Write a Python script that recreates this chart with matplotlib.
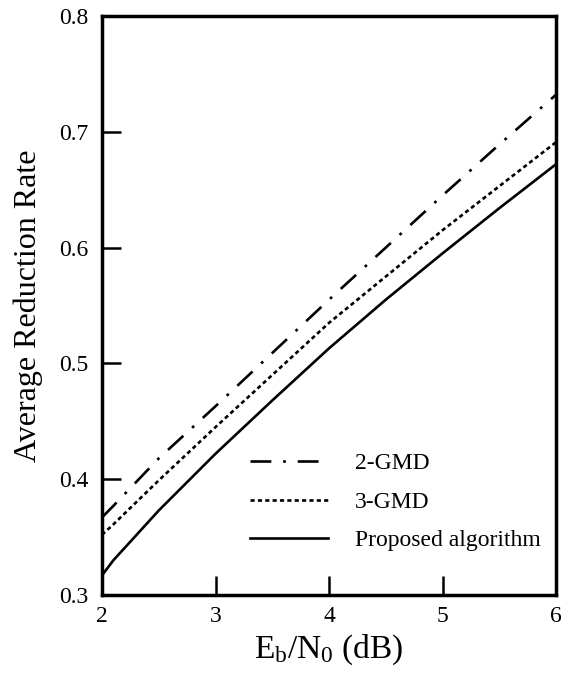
import matplotlib
matplotlib.use("Agg")
import matplotlib.pyplot as plt

# Eb/N0 (dB) sample points
ebn0 = [2.0, 2.1, 2.5, 3.0, 3.5, 4.0, 4.5, 5.0, 5.5, 6.0]

# Average reduction rate for each scheme
gmd2 = [0.367, 0.377, 0.418, 0.463, 0.509, 0.555, 0.600, 0.645, 0.689, 0.732]
gmd3 = [0.352, 0.361, 0.399, 0.445, 0.490, 0.535, 0.575, 0.615, 0.653, 0.691]
proposed = [0.317, 0.330, 0.373, 0.422, 0.468, 0.513, 0.555, 0.595, 0.634, 0.672]

labels = ["2-GMD", "3-GMD", "Proposed algorithm"]
xticks = [2, 3, 4, 5, 6]
yticks = [0.3, 0.4, 0.5, 0.6, 0.7, 0.8]

plt.rcParams["font.family"] = ["Liberation Serif", "DejaVu Serif"]
plt.rcParams["mathtext.fontset"] = "custom"
plt.rcParams["mathtext.rm"] = "Liberation Serif"
plt.rcParams["mathtext.it"] = "Liberation Serif"
plt.rcParams["lines.scale_dashes"] = False

fig = plt.figure(figsize=(5.64, 6.75), dpi=100)
ax = fig.add_axes([0.1809, 0.1185, 0.8049, 0.8578])

lw = 1.9
ax.plot(ebn0, gmd2, color="black", lw=lw, dashes=(15, 8.5, 2, 8.5), label=labels[0])
ax.plot(ebn0, gmd3, color="black", lw=lw, dashes=(3, 2.3), label=labels[1])
ax.plot(ebn0, proposed, color="black", lw=lw, label=labels[2])

ax.set_xlim(2, 6)
ax.set_ylim(0.3, 0.8)
ax.set_xticks(xticks)
ax.set_yticks(yticks)
ax.set_xticklabels([str(t) for t in xticks])
ax.set_yticklabels([f"{t:.1f}" for t in yticks])

for s in ax.spines.values():
    s.set_linewidth(2.5)

ax.tick_params(direction="in", length=14, width=1.8, labelsize=17,
               top=False, right=False)
ax.tick_params(axis="y", pad=10)
ax.tick_params(axis="x", pad=8)

ax.set_xlabel(r"E$_\mathrm{b}$/N$_\mathrm{0}$ (dB)", fontsize=24, labelpad=4)
ax.set_ylabel("Average Reduction Rate", fontsize=23, labelpad=11)

leg = ax.legend(loc="upper left", bbox_to_anchor=(0.305, 0.262), frameon=False,
                fontsize=17, handlelength=3.3, handletextpad=1.15,
                labelspacing=0.72, borderaxespad=0)

fig.savefig("out.png", dpi=100)
